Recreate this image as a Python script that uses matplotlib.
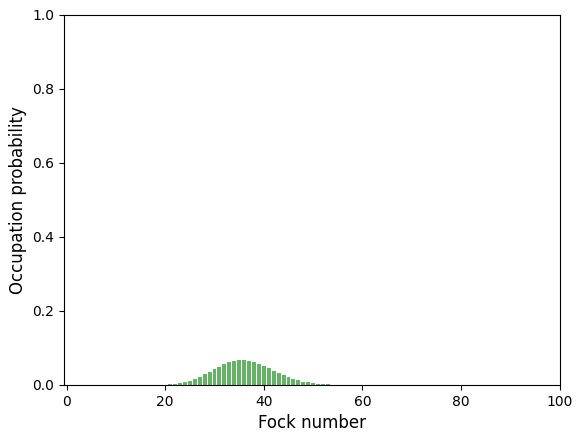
import matplotlib
matplotlib.use("Agg")
import matplotlib.pyplot as plt
import numpy as np

# Fock states and occupation probabilities
fock_n = np.arange(20, 55)
probs = [0.00128, 0.00219, 0.00358, 0.00560, 0.00840, 0.01209, 0.01674,
         0.02232, 0.02870, 0.03563, 0.04275, 0.04965, 0.05585, 0.06093,
         0.06452, 0.06636, 0.06636, 0.06457, 0.06117, 0.05647, 0.05082,
         0.04462, 0.03825, 0.03202, 0.02620, 0.02096, 0.01640, 0.01256,
         0.00942, 0.00692, 0.00498, 0.00352, 0.00243, 0.00165, 0.00110]

fig = plt.figure(figsize=(5.83, 4.41), dpi=100)
ax = fig.add_axes([0.110, 0.127, 0.850, 0.839])
ax.bar(fock_n, probs, width=0.8, color="green", alpha=0.6)
ax.set_xlim(-0.5, 100)
ax.set_ylim(0, 1)
ax.set_xlabel("Fock number", fontsize=12)
ax.set_ylabel("Occupation probability", fontsize=12)

fig.savefig("out.png", dpi=100)
